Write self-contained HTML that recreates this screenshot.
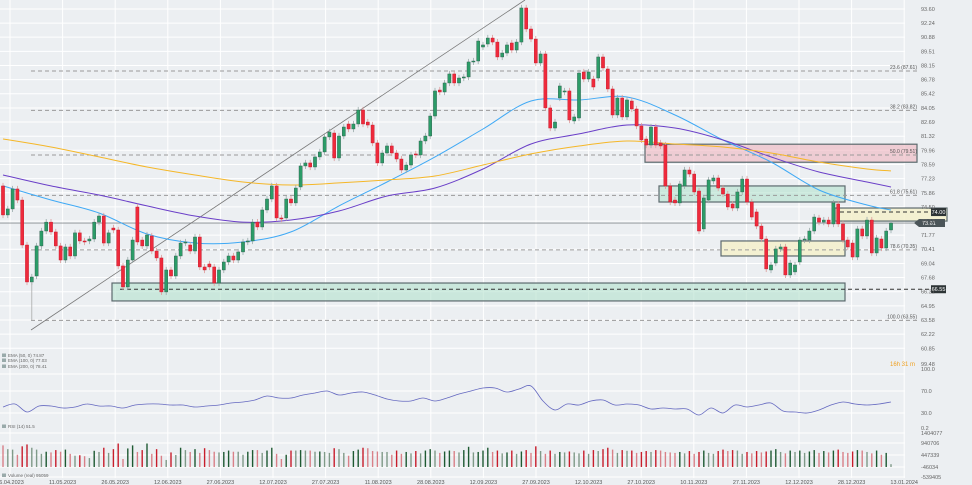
<!DOCTYPE html>
<html><head><meta charset="utf-8">
<style>
html,body{margin:0;padding:0;background:#eceff2;}
svg{display:block;font-family:"Liberation Sans",sans-serif;}
</style></head>
<body>
<svg id="chart" width="972" height="485" viewBox="0 0 972 485" xmlns="http://www.w3.org/2000/svg">
<rect x="0" y="0" width="972" height="485" fill="#eceff2"/>
<g id="grid"></g>
<g id="zones"></g>
<g id="levels"></g>
<g id="emas"></g>
<g id="candles"></g>
<g id="rsi"></g>
<g id="vol"></g>
<g id="axes"></g>
</svg>
<script>
const opens=[76.52,73.72,74.30,76.23,75.16,70.82,67.25,67.83,70.73,72.17,73.03,72.08,70.73,69.37,70.63,69.76,71.99,71.21,71.21,71.40,73.03,73.62,71.01,72.46,72.27,68.80,66.77,69.37,74.49,71.30,70.73,71.69,70.24,69.57,66.29,68.41,67.83,69.76,71.01,70.82,70.24,71.59,68.70,68.99,68.70,67.15,68.41,69.18,69.76,69.37,70.15,71.11,71.21,73.03,72.56,74.20,75.26,76.52,73.43,73.43,75.26,74.88,76.42,78.45,78.74,78.35,79.32,79.80,81.25,81.63,79.22,81.34,82.50,82.02,82.50,83.85,82.69,82.40,80.67,78.74,79.70,80.38,79.70,79.12,78.06,78.54,79.61,79.51,80.86,81.34,83.27,85.78,85.59,86.46,87.33,86.46,86.94,87.04,88.49,88.58,89.93,90.22,90.80,90.41,88.97,89.35,90.32,89.64,90.41,93.70,91.67,90.70,88.39,89.26,84.05,82.11,85.01,85.59,85.69,82.79,83.08,87.52,86.84,86.84,86.94,88.97,87.81,85.88,83.37,85.01,83.18,84.72,83.95,82.31,81.05,80.47,82.21,80.67,80.47,76.52,75.16,74.88,76.52,78.06,77.67,76.03,72.37,75.16,77.00,77.29,76.32,75.74,74.78,74.39,75.94,77.19,74.97,74.01,72.65,71.40,68.41,69.08,70.44,70.63,67.93,68.22,69.18,71.30,71.30,72.17,73.43,73.03,73.23,72.85,74.78,72.85,71.30,71.01,69.66,72.37,71.69,73.23,70.05,71.40,70.53,72.27];
const closes=[73.72,74.30,76.23,75.16,70.82,67.25,67.73,70.73,72.17,73.03,72.08,70.73,69.37,70.63,69.76,71.99,71.21,71.11,71.40,73.03,73.62,71.01,71.99,72.27,68.80,66.77,69.37,71.30,71.11,70.73,71.79,70.24,69.57,66.29,68.41,67.83,69.76,71.01,71.11,70.24,71.59,68.70,68.41,68.70,67.15,68.41,69.18,69.76,69.37,70.15,71.11,71.21,73.03,72.56,74.20,75.26,76.52,73.43,73.33,75.26,74.88,76.32,78.45,78.74,78.35,79.32,79.80,81.25,81.73,79.22,81.34,82.21,82.02,82.50,83.85,82.50,82.40,80.67,78.74,79.70,80.38,79.70,79.12,78.06,78.54,79.51,79.51,80.86,81.34,83.27,85.69,85.59,86.46,87.33,86.46,86.94,87.04,88.49,88.58,90.51,90.13,90.80,90.41,88.97,89.35,90.13,89.64,90.41,93.70,91.67,90.70,88.39,89.26,84.05,82.11,82.69,86.17,85.69,82.89,83.18,87.42,86.84,87.52,86.07,88.97,87.91,85.88,83.37,85.01,83.18,84.82,83.95,82.31,80.96,80.47,82.21,80.47,80.38,76.52,74.97,74.88,76.71,78.06,77.67,75.94,72.17,75.36,77.10,77.29,76.32,75.74,74.49,74.39,75.94,77.19,74.97,73.52,72.65,71.40,68.51,68.89,70.44,70.63,67.93,69.08,68.89,71.30,71.40,72.17,73.52,73.03,73.23,72.85,74.88,72.85,71.30,70.63,69.66,72.37,71.69,73.23,70.05,71.50,70.53,72.17,72.94];
const emaIdx=[0,10,20,30,40,50,60,70,80,90,100,110,120,130,140,150,160,170,180,185];
const ema50=[76.52,75.16,73.91,71.88,71.01,71.11,72.08,74.59,76.90,79.32,82.02,84.72,84.82,85.11,83.37,80.96,78.83,76.13,74.68,74.20];
const ema100=[77.58,76.52,75.65,74.59,73.62,73.03,73.23,74.10,75.55,76.32,78.16,80.57,81.54,82.40,82.11,80.96,79.32,77.87,76.90,76.42];
const ema200=[81.05,80.28,79.32,78.35,77.58,76.90,76.61,76.81,77.10,77.48,78.54,79.61,80.38,80.86,80.57,80.28,79.70,78.83,78.16,77.97];
const rsiVals=[40.9,46.4,31.8,42.7,42.7,39.1,40.9,46.4,42.7,42.7,39.1,44.5,46.4,46.4,44.5,44.5,40.9,42.7,44.5,48.2,50,53.6,60.9,57.3,57.3,62.7,66.4,70,62.7,66.4,68.2,62.7,55.5,51.8,51.8,57.3,51.8,57.3,64.5,70,75.5,75.5,68.2,73.6,79.1,51.8,35.5,46.4,44.5,51.8,53.6,44.5,46.4,44.5,37.3,39.1,37.3,37.3,26.4,39.1,30,44.5,40.9,44.5,48.2,33.6,31.8,30,35.5,44.5,50,46.4,44.5,46.4,50];
const volumes=[920,760,740,520,880,960,820,740,560,650,620,720,650,740,560,480,500,460,380,690,640,820,600,760,1000,340,790,920,640,720,1000,560,760,480,300,620,510,820,720,640,760,600,800,720,650,620,640,700,650,650,520,650,720,720,600,700,820,560,340,520,700,700,720,700,700,650,660,640,600,800,760,600,480,680,740,820,800,680,660,640,640,520,700,560,640,580,680,580,700,760,700,600,660,700,680,620,720,860,620,640,700,820,640,700,580,620,700,560,660,720,600,880,680,560,700,560,640,620,660,620,580,700,560,720,680,760,820,740,600,720,690,700,600,640,680,640,720,700,640,620,600,640,580,680,560,640,700,600,560,680,740,680,720,700,560,640,580,680,620,660,700,760,640,580,700,640,700,600,660,720,600,680,620,700,740,640,600,660,720,700,640,580,700,520,600,120];
const priceTicks=["93.60","92.24","90.88","89.51","88.15","86.78","85.42","84.05","82.69","81.32","79.96","78.59","77.23","75.86","74.50","73.13","71.77","70.41","69.04","67.68","66.31","64.95","63.58","62.22","60.85"];
const dateLabels=["26.04.2023","11.05.2023","26.05.2023","12.06.2023","27.06.2023","12.07.2023","27.07.2023","11.08.2023","28.08.2023","12.09.2023","27.09.2023","12.10.2023","27.10.2023","10.11.2023","27.11.2023","12.12.2023","28.12.2023","13.01.2024"];
const fibLevels=[87.61,83.82,79.51,75.61,70.35,63.55];
const fibNames=["23.6","38.2","50.0","61.8","78.6","100.0"];

const NS="http://www.w3.org/2000/svg";
const xs=i=>3+i*4.8;
const ys=p=>9+(93.6-p)*10.36;
const rsiY=v=>391+(70-v)*0.55;
const volY=v=>467-v*0.0235;
function mk(parent,tag,attrs,text){const e=document.createElementNS(NS,tag);for(const k in attrs)e.setAttribute(k,attrs[k]);if(text!==undefined)e.textContent=text;document.getElementById(parent).appendChild(e);return e;}
function smooth(P){let d='M'+P[0][0].toFixed(1)+' '+P[0][1].toFixed(1);
 for(let i=0;i<P.length-1;i++){const p0=P[i-1]||P[i],p1=P[i],p2=P[i+1],p3=P[i+2]||p2;
  const c1=[p1[0]+(p2[0]-p0[0])/6,p1[1]+(p2[1]-p0[1])/6],c2=[p2[0]-(p3[0]-p1[0])/6,p2[1]-(p3[1]-p1[1])/6];
  d+=` C${c1[0].toFixed(1)} ${c1[1].toFixed(1)} ${c2[0].toFixed(1)} ${c2[1].toFixed(1)} ${p2[0].toFixed(1)} ${p2[1].toFixed(1)}`;}
 return d;}

// grid
priceTicks.forEach((t,i)=>{const y=ys(parseFloat(t));
 const l=mk('grid','line',{x1:0,x2:905,y1:y,y2:y,stroke:'#ffffff','stroke-width':1});
 
 
 const tx=mk('axes','text',{x:921,y:y+2,'font-size':5.5,fill:'#666'},t);
 
 
});
[374,391,413,433,443,455,467,477].forEach(y=>{const l=mk('grid','line',{x1:0,x2:905,y1:y,y2:y,stroke:'#ffffff','stroke-width':1});
 
 });
dateLabels.forEach((d,i)=>{const x=10+i*52.6;
 const l=mk('grid','line',{x1:x,x2:x,y1:0,y2:478,stroke:'#ffffff','stroke-width':1});
 
 
 const tx=mk('axes','text',{x:x,y:484,'font-size':5.5,fill:'#555','text-anchor':'middle'},d);
 
 
});
[['1404077',433],['940706',443],['447339',455],['-46034',467],['-539405',477],['100.0',369],['70.0',391],['30.0',413],['0.2',428],['99.48',364]].forEach(([t,y])=>{
 const tx=mk('axes','text',{x:921,y:y+2,'font-size':5.5,fill:'#666'},t);
 
 });
const ct=mk('axes','text',{x:890,y:366,'font-size':6,fill:'#f0a020'},'16h 31 m');



// zones
function zone(x1,p1,x2,p2,fill,name){const r=mk('zones','rect',{x:x1,y:ys(p1),width:x2-x1,height:ys(p2)-ys(p1),fill:fill,stroke:'#5c6a6e','stroke-width':1.2});
 
 }
zone(645,80.55,917,78.81,'rgba(240,180,190,0.6)','resistance-zone-pink');
zone(659,76.52,845,74.97,'rgba(180,225,205,0.6)','zone-green-upper');
zone(721,71.21,845,69.76,'rgba(245,240,200,0.8)','zone-yellow-lower');
zone(835,74.39,947,73.13,'rgba(245,240,200,0.8)','zone-yellow-right');
zone(112,67.15,845,65.42,'rgba(180,225,205,0.6)','support-zone-green');

// levels
fibLevels.forEach((p,i)=>{const y=ys(p);
 const l=mk('levels','line',{x1:31,x2:918,y1:y,y2:y,stroke:'#9a9a9a','stroke-width':1,'stroke-dasharray':'4,3'});
 
 
 const tx=mk('levels','text',{x:917,y:y-2,'font-size':5,fill:'#555','text-anchor':'end'},fibNames[i]+' ('+p.toFixed(2)+')');
 
 });
[[74.0,'74.00',840],[66.55,'66.55',120]].forEach(([p,t,x0])=>{const y=ys(p);
 const l=mk('levels','line',{x1:x0,x2:930,y1:y,y2:y,stroke:'#333','stroke-width':1,'stroke-dasharray':'4,3'});
 
 
 const r=mk('levels','rect',{x:931,y:y-4,width:15,height:8,fill:'#2d3436'});
 
 
 const tx=mk('levels','text',{x:938.5,y:y+2,'font-size':5.5,fill:'#fff','text-anchor':'middle'},t);
 
 });
const lastP=closes[closes.length-1];
const cy=ys(lastP);
const cl=mk('levels','line',{x1:0,x2:918,y1:cy,y2:cy,stroke:'#8a8f93','stroke-width':0.8});


const cp=mk('levels','path',{d:`M914 ${cy} L919 ${cy-4} L945 ${cy-4} L945 ${cy+4} L919 ${cy+4} Z`,fill:'#4b5559'});


const cpt=mk('levels','text',{x:922,y:cy+2,'font-size':5.5,fill:'#fff'},'73.61');


const tl=mk('levels','line',{x1:31,y1:330,x2:525,y2:0,stroke:'#777','stroke-width':0.8});



// EMAs
[[ema50,'#3fa9f5','ema-50-line'],[ema100,'#6a3fc8','ema-100-line'],[ema200,'#f5b728','ema-200-line']].forEach(([arr,c,n])=>{
 const P=arr.map((v,i)=>[xs(emaIdx[i]),ys(v)]);
 const pl=mk('emas','path',{d:smooth(P),fill:'none',stroke:c,'stroke-width':1});
 
 });

// candles
const n=Math.min(opens.length,closes.length);
for(let i=0;i<n;i++){const o=opens[i],c=closes[i],x=xs(i);const up=c>=o;
 const col=up?'#2c9c68':'#ee2a3c';
 const hi=Math.max(o,c)+0.3,lo=Math.min(o,c)-0.3;
 const w=mk('candles','line',{x1:x,x2:x,y1:ys(hi),y2:ys(lo),stroke:up?'#9aa':'#d99','stroke-width':0.8});
 
 
 const top=ys(Math.max(o,c)),h=Math.max(1,Math.abs(ys(o)-ys(c)));
 const b=mk('candles','rect',{x:x-1.6,y:top,width:3.2,height:h,fill:col,stroke:up?'#2d5a4a':'#c01828','stroke-width':0.4});
 
 }
const lw=mk('candles','line',{x1:xs(6),x2:xs(6),y1:ys(opens[6]),y2:ys(63.55),stroke:'#aaa','stroke-width':0.8});



// RSI
const RP=rsiVals.map((v,i)=>[3+i*12,rsiY(v)]);
const rl=mk('rsi','path',{d:smooth(RP),fill:'none',stroke:'#6468c0','stroke-width':0.8});


[['EMA (50, 0) 74.87',357],['EMA (100, 0) 77.03',362],['EMA (200, 0) 78.41',368],['RSI (14) 51.5',428],['Volume (real) 95059',477]].forEach(([t,y])=>{
 const r=mk('rsi','rect',{x:2,y:y-3.5,width:4,height:3.5,fill:'#9aa'});
 
 
 const tx=mk('rsi','text',{x:8,y:y,'font-size':4.5,fill:'#666'},t);
 
 });

// volume
const vn=Math.min(volumes.length,n);
for(let i=0;i<vn;i++){const up=closes[i]>=opens[i];const inc=i>0&&volumes[i]>volumes[i-1];
 const col=up?(inc?'#1e5a32':'#7f9a88'):(inc?'#c81e2c':'#d98088');
 const top=volY(volumes[i]);
 const b=mk('vol','rect',{x:xs(i)-0.7,y:top,width:1.4,height:467-top,fill:col});
 
 }
</script>
</body></html>
